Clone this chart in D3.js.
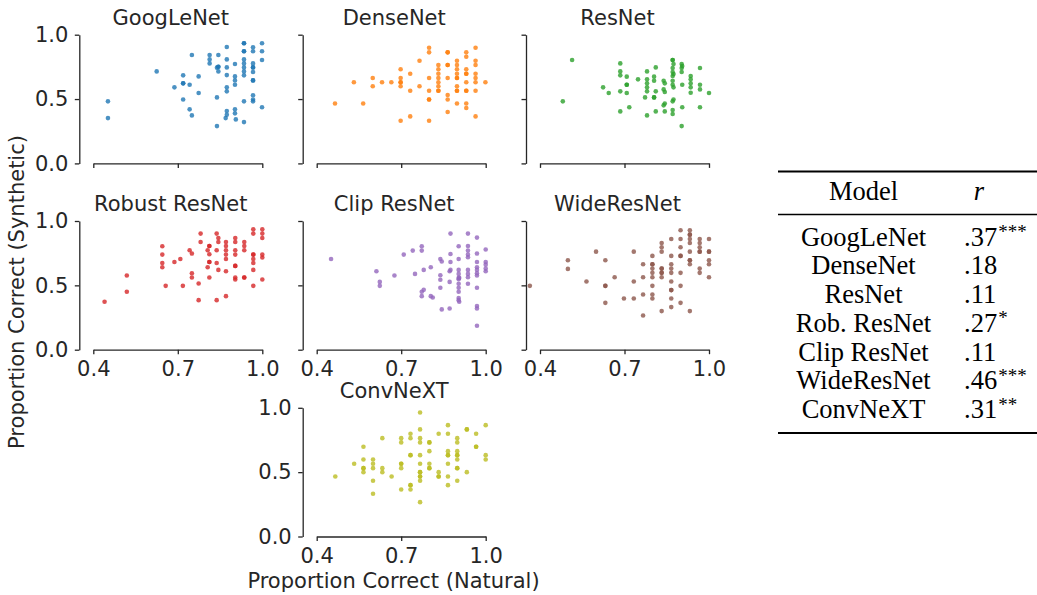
<!DOCTYPE html>
<html>
<head>
<meta charset="utf-8">
<script src="https://cdn.jsdelivr.net/npm/d3@7"></script>
<style>
  html, body { margin: 0; padding: 0; background: #fff; }
  svg { display: block; }
</style>
</head>
<body>
<svg id="fig" width="1037" height="595"></svg>
<script>
// Per-model points: [proportion correct natural, proportion correct synthetic]
const googlenet = [
  [0.452,0.482],[0.452,0.352],[0.625,0.715],[0.688,0.591],
  [0.719,0.684],[0.719,0.622],[0.719,0.622],[0.719,0.497],
  [0.742,0.611],[0.742,0.420],[0.750,0.842],[0.750,0.373],
  [0.774,0.676],[0.774,0.547],[0.813,0.842],[0.813,0.808],[0.813,0.777],
  [0.839,0.744],[0.839,0.513],[0.839,0.290],
  [0.844,0.842],[0.844,0.751],[0.844,0.751],[0.844,0.715],
  [0.874,0.904],[0.874,0.808],[0.874,0.746],[0.874,0.686],[0.874,0.591],[0.874,0.560],[0.874,0.407],[0.874,0.378],[0.870,0.352],
  [0.903,0.772],[0.903,0.676],[0.903,0.645],[0.903,0.611],[0.903,0.420],[0.903,0.389],[0.906,0.342],
  [0.935,0.933],[0.935,0.933],[0.935,0.871],[0.935,0.871],[0.935,0.808],[0.935,0.777],[0.935,0.746],[0.935,0.715],[0.935,0.684],[0.935,0.482],[0.935,0.321],
  [0.967,0.902],[0.967,0.871],[0.967,0.777],[0.967,0.746],[0.967,0.746],[0.967,0.710],[0.967,0.645],[0.967,0.645],[0.967,0.529],[0.967,0.497],[0.967,0.482],
  [0.999,0.933],[0.999,0.871],[0.999,0.803],[0.999,0.436]
];
const densenet = [
  [0.465,0.466],[0.532,0.630],[0.565,0.466],[0.599,0.663],[0.599,0.599],
  [0.632,0.630],[0.665,0.630],
  [0.698,0.731],[0.698,0.663],[0.698,0.630],[0.698,0.630],[0.698,0.599],[0.698,0.331],
  [0.732,0.697],[0.732,0.565],[0.732,0.365],[0.765,0.798],[0.765,0.599],
  [0.799,0.899],[0.799,0.863],[0.799,0.663],[0.799,0.565],[0.799,0.497],[0.799,0.497],[0.799,0.331],
  [0.832,0.764],[0.832,0.731],[0.832,0.697],[0.832,0.663],[0.832,0.630],[0.832,0.599],[0.832,0.565],[0.832,0.565],
  [0.865,0.863],[0.865,0.863],[0.865,0.764],[0.865,0.764],[0.865,0.663],[0.865,0.531],[0.865,0.497],[0.865,0.399],
  [0.898,0.798],[0.898,0.764],[0.898,0.731],[0.898,0.697],[0.898,0.663],[0.898,0.663],[0.898,0.599],[0.898,0.565],[0.898,0.565],[0.898,0.466],
  [0.931,0.863],[0.931,0.829],[0.931,0.731],[0.931,0.697],[0.931,0.697],[0.931,0.630],[0.931,0.565],[0.931,0.565],[0.931,0.466],[0.931,0.430],
  [0.964,0.899],[0.964,0.798],[0.964,0.764],[0.964,0.697],[0.964,0.663],[0.964,0.630],[0.964,0.565],[0.964,0.365],
  [0.999,0.630]
];
const resnet = [
  [0.481,0.482],[0.514,0.803],[0.624,0.591],[0.644,0.547],
  [0.685,0.777],[0.685,0.715],[0.685,0.684],[0.685,0.560],[0.685,0.404],
  [0.708,0.674],[0.708,0.611],[0.708,0.611],[0.708,0.547],[0.717,0.436],
  [0.748,0.653],[0.773,0.513],
  [0.780,0.715],[0.780,0.653],[0.780,0.622],[0.780,0.591],[0.780,0.560],[0.780,0.373],
  [0.805,0.674],[0.805,0.642],[0.805,0.513],[0.805,0.513],
  [0.811,0.746],[0.811,0.560],[0.811,0.404],
  [0.839,0.642],[0.839,0.575],[0.839,0.451],
  [0.843,0.622],[0.843,0.555],[0.843,0.466],[0.843,0.404],
  [0.871,0.803],[0.871,0.803],[0.871,0.741],[0.871,0.710],[0.871,0.679],[0.871,0.642],[0.871,0.611],[0.871,0.482],[0.871,0.415],[0.871,0.384],
  [0.874,0.772],[0.874,0.694],[0.874,0.591],[0.874,0.497],
  [0.903,0.772],[0.903,0.741],[0.903,0.710],[0.903,0.290],
  [0.905,0.756],[0.905,0.611],[0.905,0.436],
  [0.935,0.679],[0.935,0.653],[0.935,0.622],[0.935,0.591],[0.935,0.549],
  [0.968,0.741],[0.968,0.611],[0.968,0.575],[0.968,0.436],
  [1.000,0.547]
];
const robustResnet = [
  [0.440,0.372],[0.519,0.576],[0.519,0.450],
  [0.645,0.804],[0.645,0.739],[0.645,0.674],[0.645,0.641],
  [0.657,0.496],[0.688,0.682],[0.709,0.705],[0.718,0.496],
  [0.742,0.773],[0.750,0.747],[0.750,0.594],[0.750,0.561],
  [0.774,0.514],[0.774,0.385],[0.781,0.902],[0.781,0.837],
  [0.806,0.773],[0.806,0.641],[0.812,0.806],[0.812,0.806],[0.812,0.742],[0.812,0.682],[0.812,0.682],[0.812,0.561],
  [0.838,0.902],[0.838,0.773],[0.838,0.674],[0.838,0.385],[0.844,0.868],[0.844,0.837],[0.844,0.620],
  [0.871,0.837],[0.871,0.806],[0.871,0.773],[0.871,0.739],[0.871,0.705],[0.871,0.610],[0.871,0.416],
  [0.904,0.868],[0.904,0.837],[0.904,0.773],[0.904,0.739],[0.904,0.651],[0.904,0.651],[0.904,0.561],[0.904,0.545],
  [0.936,0.837],[0.936,0.806],[0.936,0.773],[0.936,0.561],[0.936,0.561],
  [0.968,0.935],[0.968,0.902],[0.968,0.739],[0.968,0.739],[0.968,0.705],[0.968,0.674],[0.968,0.620],[0.968,0.496],
  [1.000,0.935],[1.000,0.902],[1.000,0.868],[1.000,0.739],[1.000,0.716],[1.000,0.545]
];
const clipResnet = [
  [0.451,0.705],[0.612,0.610],[0.624,0.527],[0.624,0.496],[0.676,0.576],
  [0.709,0.739],[0.741,0.770],[0.749,0.589],
  [0.773,0.804],[0.773,0.770],[0.773,0.450],[0.773,0.416],
  [0.780,0.620],[0.780,0.465],[0.805,0.641],[0.805,0.416],[0.812,0.406],
  [0.839,0.705],[0.839,0.579],[0.839,0.543],[0.839,0.481],[0.844,0.685],[0.844,0.313],
  [0.872,0.610],[0.872,0.527],[0.872,0.320],
  [0.875,0.902],[0.875,0.744],[0.875,0.682],[0.875,0.620],
  [0.904,0.804],[0.904,0.705],[0.904,0.620],[0.904,0.589],[0.904,0.558],[0.904,0.548],[0.904,0.512],[0.904,0.481],[0.904,0.450],[0.904,0.401],[0.904,0.385],
  [0.906,0.558],[0.906,0.372],
  [0.937,0.902],[0.937,0.806],[0.937,0.770],[0.937,0.739],[0.937,0.718],[0.937,0.620],[0.937,0.589],[0.937,0.563],[0.937,0.512],
  [0.969,0.871],[0.969,0.747],[0.969,0.682],[0.969,0.641],[0.969,0.620],[0.969,0.594],[0.969,0.576],[0.969,0.481],[0.969,0.339],[0.969,0.320],[0.969,0.186],
  [1.000,0.778],[1.000,0.682],[1.000,0.661],[1.000,0.630],[1.000,0.610]
];
const wideResnet = [
  [0.364,0.496],[0.499,0.695],[0.499,0.628],[0.565,0.530],[0.599,0.762],
  [0.632,0.695],[0.632,0.496],[0.632,0.496],[0.632,0.364],
  [0.665,0.563],[0.698,0.398],[0.733,0.762],[0.733,0.530],[0.733,0.398],
  [0.766,0.664],[0.766,0.563],[0.766,0.429],[0.766,0.266],
  [0.799,0.729],[0.799,0.664],[0.799,0.664],[0.799,0.630],[0.799,0.597],[0.799,0.563],[0.799,0.496],[0.799,0.429],[0.799,0.398],
  [0.832,0.829],[0.832,0.796],[0.832,0.762],[0.832,0.630],[0.832,0.630],[0.832,0.597],[0.832,0.597],[0.832,0.563],[0.832,0.300],
  [0.866,0.860],[0.866,0.729],[0.866,0.664],[0.866,0.630],[0.866,0.597],[0.866,0.530],[0.866,0.463],[0.866,0.463],[0.866,0.398],[0.866,0.331],
  [0.899,0.928],[0.899,0.860],[0.899,0.796],[0.899,0.729],[0.899,0.729],[0.899,0.597],[0.899,0.496],[0.899,0.364],
  [0.932,0.928],[0.932,0.894],[0.932,0.894],[0.932,0.860],[0.932,0.829],[0.932,0.762],[0.932,0.695],[0.932,0.695],[0.932,0.664],[0.932,0.300],
  [0.967,0.860],[0.967,0.829],[0.967,0.796],[0.967,0.762],[0.967,0.762],[0.967,0.630],[0.967,0.597],
  [1.000,0.860],[1.000,0.762],[1.000,0.762],[1.000,0.695],[1.000,0.664],[1.000,0.563]
];
const convnext = [
  [0.466,0.466],[0.533,0.565],
  [0.566,0.697],[0.566,0.598],[0.566,0.531],[0.566,0.531],[0.566,0.500],
  [0.600,0.598],[0.600,0.565],[0.600,0.531],[0.600,0.433],[0.600,0.332],
  [0.633,0.764],[0.633,0.531],[0.633,0.500],[0.666,0.466],
  [0.700,0.764],[0.700,0.731],[0.700,0.565],[0.700,0.565],[0.700,0.531],[0.700,0.365],
  [0.733,0.798],[0.733,0.764],[0.733,0.632],[0.733,0.632],[0.733,0.399],[0.733,0.399],[0.733,0.365],
  [0.767,0.964],[0.767,0.832],[0.767,0.764],[0.767,0.731],[0.767,0.632],[0.767,0.565],[0.767,0.500],[0.767,0.500],[0.767,0.466],[0.767,0.466],[0.767,0.433],[0.767,0.267],
  [0.800,0.731],[0.800,0.731],[0.800,0.663],[0.800,0.565],[0.800,0.531],[0.800,0.531],
  [0.833,0.798],[0.833,0.500],[0.833,0.466],[0.833,0.466],
  [0.866,0.865],[0.866,0.798],[0.866,0.663],[0.866,0.632],[0.866,0.632],[0.866,0.565],[0.866,0.466],[0.866,0.399],
  [0.899,0.764],[0.899,0.731],[0.899,0.663],[0.899,0.632],[0.899,0.632],[0.899,0.598],[0.899,0.531],[0.899,0.531],[0.899,0.433],
  [0.933,0.832],[0.933,0.832],[0.933,0.500],
  [0.966,0.798],[0.966,0.697],[0.966,0.697],
  [1.000,0.865],[1.000,0.632],[1.000,0.598]
];

const panelTitles = ["GoogLeNet", "DenseNet", "ResNet", "Robust ResNet", "Clip ResNet", "WideResNet", "ConvNeXT"];
const panelData = [googlenet, densenet, resnet, robustResnet, clipResnet, wideResnet, convnext];
const panelColors = ["#1f77b4", "#ff7f0e", "#2ca02c", "#d62728", "#9467bd", "#8c564b", "#bcbd22"];
const xTicks = [0.4, 0.7, 1.0];
const yTicks = [0.0, 0.5, 1.0];

// Correlation table
const tableModels = ["GoogLeNet", "DenseNet", "ResNet", "Rob. ResNet", "Clip ResNet", "WideResNet", "ConvNeXT"];
const tableR = [".37", ".18", ".11", ".27", ".11", ".46", ".31"];
const tableStars = ["***", "", "", "*", "", "***", "**"];

// ---- layout ----
const svg = d3.select("#fig");
const FONT = "'DejaVu Sans', sans-serif";
const FS = 21;
const INK = "#262626";
const colX = [93.3, 316.7, 540];   // pixel position of x = 0.4 in each column
const rowY = [34.7, 221, 407.8];     // pixel position of y = 1.0 in each row
const W = 169, H = 128.7, SPINE_GAP = 14;
// grid cell of each panel, and whether it shows tick labels
const cells = [
  {c: 0, r: 0, xl: false, yl: true},
  {c: 1, r: 0, xl: false, yl: false},
  {c: 2, r: 0, xl: false, yl: false},
  {c: 0, r: 1, xl: true, yl: true},
  {c: 1, r: 1, xl: true, yl: false},
  {c: 2, r: 1, xl: true, yl: false},
  {c: 1, r: 2, xl: true, yl: true}
];

function styleAxis(g) {
  g.select(".domain").attr("stroke", INK).attr("stroke-width", 1.3);
  g.selectAll(".tick line").attr("stroke", INK).attr("stroke-width", 1.3);
  g.selectAll(".tick text").attr("fill", INK).style("font-family", FONT).style("font-size", FS + "px");
}

panelTitles.forEach((title, i) => {
  const cell = cells[i];
  const x0 = colX[cell.c], yTop = rowY[cell.r];
  const x = d3.scaleLinear().domain([0.4, 1.0]).range([x0, x0 + W]);
  const y = d3.scaleLinear().domain([0, 1]).range([yTop + H, yTop]);
  const spineX = x0 - SPINE_GAP;
  const g = svg.append("g");

  const xAxis = d3.axisBottom(x).tickValues(xTicks).tickSize(4.5).tickSizeOuter(0).tickPadding(7)
    .tickFormat(cell.xl ? d3.format(".1f") : () => "");
  g.append("g").attr("transform", `translate(0,${yTop + H})`).call(xAxis).call(styleAxis);

  const yAxis = d3.axisLeft(y).tickValues(yTicks).tickSize(4.5).tickSizeOuter(0).tickPadding(6.5)
    .tickFormat(cell.yl ? d3.format(".1f") : () => "");
  g.append("g").attr("transform", `translate(${spineX},0)`).call(yAxis).call(styleAxis);

  g.append("g").selectAll("circle").data(panelData[i]).join("circle")
    .attr("cx", d => x(d[0])).attr("cy", d => y(d[1])).attr("r", 2.3)
    .attr("fill", panelColors[i]).attr("fill-opacity", 0.8);

  g.append("text").attr("x", (spineX + x0 + W) / 2).attr("y", yTop - 10)
    .attr("text-anchor", "middle").attr("fill", INK)
    .style("font-family", FONT).style("font-size", FS + "px").text(title);
});

svg.append("text").attr("transform", "translate(24,292) rotate(-90)")
  .attr("text-anchor", "middle").attr("fill", INK)
  .style("font-family", FONT).style("font-size", FS + "px")
  .text("Proportion Correct (Synthetic)");

svg.append("text").attr("x", 393.5).attr("y", 588)
  .attr("text-anchor", "middle").attr("fill", INK)
  .style("font-family", FONT).style("font-size", FS + "px")
  .text("Proportion Correct (Natural)");

// ---- table ----
const SERIF = "'Liberation Serif', 'Times New Roman', serif";
const TFS = 26.5;
const tbl = svg.append("g");
const tx0 = 778, tx1 = 1037;
tbl.append("line").attr("x1", tx0).attr("x2", tx1).attr("y1", 171.5).attr("y2", 171.5).attr("stroke", "#000").attr("stroke-width", 2);
tbl.append("line").attr("x1", tx0).attr("x2", tx1).attr("y1", 214.5).attr("y2", 214.5).attr("stroke", "#000").attr("stroke-width", 1.3);
tbl.append("line").attr("x1", tx0).attr("x2", tx1).attr("y1", 433).attr("y2", 433).attr("stroke", "#000").attr("stroke-width", 2);

tbl.append("text").attr("x", 863.5).attr("y", 200).attr("text-anchor", "middle")
  .style("font-family", SERIF).style("font-size", TFS + "px").text("Model");
tbl.append("text").attr("x", 979).attr("y", 200).attr("text-anchor", "middle")
  .style("font-family", SERIF).style("font-size", TFS + "px").style("font-style", "italic").text("r");

const rowBase = d3.scaleLinear().domain([0, tableModels.length - 1]).range([245.5, 418]);
tableModels.forEach((m, i) => {
  tbl.append("text").attr("x", 863.5).attr("y", rowBase(i)).attr("text-anchor", "middle")
    .style("font-family", SERIF).style("font-size", TFS + "px").text(m);
  const t = tbl.append("text").attr("x", 964).attr("y", rowBase(i))
    .style("font-family", SERIF).style("font-size", TFS + "px");
  t.append("tspan").text(tableR[i]);
  if (tableStars[i]) {
    t.append("tspan").attr("dy", -7.5).attr("dx", 1).style("font-size", "19px").text(tableStars[i]);
  }
});
</script>
</body>
</html>
